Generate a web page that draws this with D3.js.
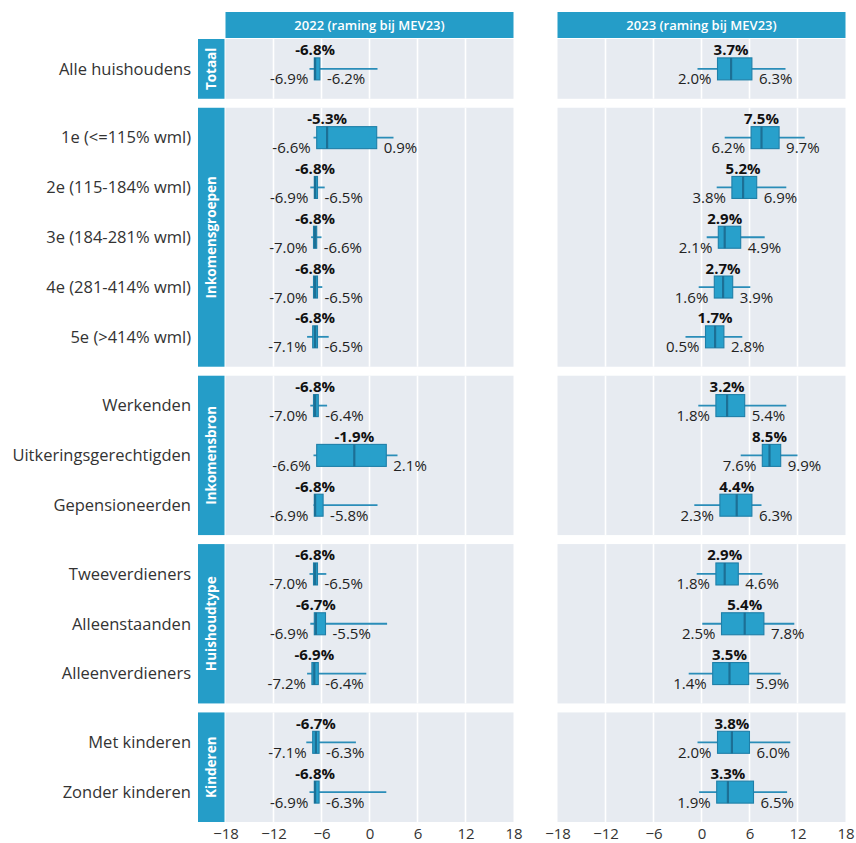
<!DOCTYPE html>
<html>
<head>
<meta charset="utf-8">
<script src="https://cdn.jsdelivr.net/npm/d3@7"></script>
<style>
  html, body { margin: 0; padding: 0; background: #ffffff; }
  svg { display: block; font-family: "Open Sans", "Noto Sans", sans-serif; }
</style>
</head>
<body>
<svg id="chart" width="856" height="843"></svg>
<script>
// ---------------- DATA ----------------
const years = ["2022 (raming bij MEV23)", "2023 (raming bij MEV23)"];
const groups = ["Totaal", "Inkomensgroepen", "Inkomensbron", "Huishoudtype", "Kinderen"];
const categories = [
  "Alle huishoudens",
  "1e (<=115% wml)", "2e (115-184% wml)", "3e (184-281% wml)", "4e (281-414% wml)", "5e (>414% wml)",
  "Werkenden", "Uitkeringsgerechtigden", "Gepensioneerden",
  "Tweeverdieners", "Alleenstaanden", "Alleenverdieners",
  "Met kinderen", "Zonder kinderen"
];
const categoryGroup = [
  "Totaal",
  "Inkomensgroepen", "Inkomensgroepen", "Inkomensgroepen", "Inkomensgroepen", "Inkomensgroepen",
  "Inkomensbron", "Inkomensbron", "Inkomensbron",
  "Huishoudtype", "Huishoudtype", "Huishoudtype",
  "Kinderen", "Kinderen"
];
// 2022
const low2022  = [-7.5, -7.0, -7.4, -7.3, -7.4, -7.8, -7.4, -7.0, -7.0, -7.5, -7.4, -7.8, -7.9, -7.5];
const q1_2022  = [-6.9, -6.6, -6.9, -7.0, -7.0, -7.1, -7.0, -6.6, -6.9, -7.0, -6.9, -7.2, -7.1, -6.9];
const med2022  = [-6.8, -5.3, -6.8, -6.8, -6.8, -6.8, -6.8, -1.9, -6.8, -6.8, -6.7, -6.9, -6.7, -6.8];
const q3_2022  = [-6.2,  0.9, -6.5, -6.6, -6.5, -6.5, -6.4,  2.1, -5.8, -6.5, -5.5, -6.4, -6.3, -6.3];
const high2022 = [ 1.0,  3.0, -5.6, -6.0, -5.9, -5.1, -5.3,  3.5,  1.0, -5.4,  2.2, -0.4, -1.7,  2.1];
// 2023
const low2023  = [-0.5,  2.9,  1.9,  0.65, -0.35, -2.0, -0.4, 4.9, -0.9, -0.6,  0.1, -1.6, -0.5, -0.3];
const q1_2023  = [ 2.0,  6.2,  3.8,  2.1,  1.6,  0.5,  1.8,  7.6,  2.3,  1.8,  2.5,  1.4,  2.0,  1.9];
const med2023  = [ 3.7,  7.5,  5.2,  2.9,  2.7,  1.7,  3.2,  8.5,  4.4,  2.9,  5.4,  3.5,  3.8,  3.3];
const q3_2023  = [ 6.3,  9.7,  6.9,  4.9,  3.9,  2.8,  5.4,  9.9,  6.3,  4.6,  7.8,  5.9,  6.0,  6.5];
const high2023 = [10.5, 12.9, 10.6,  7.9,  6.1,  5.1, 10.6, 12.0,  7.5,  7.6, 11.6,  9.9, 11.1, 10.7];
const xTicks = [-18, -12, -6, 0, 6, 12, 18];

const series = [
  {year: years[0], low: low2022, q1: q1_2022, med: med2022, q3: q3_2022, high: high2022},
  {year: years[1], low: low2023, q1: q1_2023, med: med2023, q3: q3_2023, high: high2023}
];

// ---------------- LAYOUT ----------------
const svg = d3.select("#chart");
const C = {
  strip: "#259dc8",
  fill: "#28a0cb",
  stroke: "#1f7fa8",
  median: "#1c6f95",
  whisker: "#2a8db8",
  panel: "#e7ebf1",
  grid: "#ffffff",
  text: "#333333"
};
const panelX = [225.5, 557.5];
const panelW = 288;
const topY = 39;
const gap = 9;
const unit = 49.8;

const xScales = panelX.map(x0 => d3.scaleLinear().domain([-18, 18]).range([x0, x0 + panelW]));

const facets = [];
let yCursor = topY;
groups.forEach(g => {
  const cats = categories.filter((c, i) => categoryGroup[i] === g);
  const h = (cats.length - 1 + 1.2) * unit;
  const y = d3.scalePoint().domain(cats).range([yCursor, yCursor + h]).padding(0.6);
  facets.push({group: g, cats, y0: yCursor, h, y});
  yCursor += h + gap;
});

years.forEach((yr, k) => {
  svg.append("rect").attr("x", panelX[k]).attr("y", 12).attr("width", panelW).attr("height", 26)
    .attr("fill", C.strip);
  svg.append("text").attr("x", panelX[k] + panelW / 2).attr("y", 25).attr("dy", "0.35em")
    .attr("text-anchor", "middle").attr("fill", "#ffffff").attr("font-size", 13).attr("font-weight", 600)
    .text(yr);
});

facets.forEach(f => {
  svg.append("rect").attr("x", 198).attr("y", f.y0).attr("width", 26.5).attr("height", f.h)
    .attr("fill", C.strip);
  svg.append("text")
    .attr("transform", `translate(${211.5},${f.y0 + f.h / 2}) rotate(-90)`)
    .attr("text-anchor", "middle").attr("dy", "0.35em")
    .attr("fill", "#ffffff").attr("font-size", 13.5).attr("font-weight", 700)
    .text(f.group);

  f.cats.forEach(c => {
    svg.append("text").attr("x", 191).attr("y", f.y(c)).attr("dy", "0.35em")
      .attr("text-anchor", "end").attr("fill", C.text).attr("font-size", 16.5).text(c);
  });

  series.forEach((s, k) => {
    const x = xScales[k];
    const g = svg.append("g");
    g.append("rect").attr("x", panelX[k]).attr("y", f.y0).attr("width", panelW).attr("height", f.h)
      .attr("fill", C.panel);
    g.selectAll("line.grid").data(xTicks.slice(1, -1)).join("line")
      .attr("x1", d => x(d)).attr("x2", d => x(d))
      .attr("y1", f.y0).attr("y2", f.y0 + f.h)
      .attr("stroke", C.grid).attr("stroke-width", 1.6);

    const rows = f.cats.map(c => {
      const i = categories.indexOf(c);
      return {c, low: s.low[i], q1: s.q1[i], med: s.med[i], q3: s.q3[i], high: s.high[i]};
    });
    const bh = 22;
    const fmt = v => v.toFixed(1) + "%";
    rows.forEach(r => {
      const cy = f.y(r.c);
      g.append("line").attr("x1", x(r.low)).attr("x2", x(r.high)).attr("y1", cy).attr("y2", cy)
        .attr("stroke", C.whisker).attr("stroke-width", 1.8);
      g.append("rect").attr("x", x(r.q1)).attr("y", cy - bh / 2)
        .attr("width", Math.max(0.5, x(r.q3) - x(r.q1))).attr("height", bh)
        .attr("fill", C.fill).attr("stroke", C.stroke).attr("stroke-width", 1.1);
      g.append("line").attr("x1", x(r.med)).attr("x2", x(r.med)).attr("y1", cy - bh / 2).attr("y2", cy + bh / 2)
        .attr("stroke", C.median).attr("stroke-width", 2.2);
      g.append("text").attr("x", x(r.med)).attr("y", cy - 13.5)
        .attr("text-anchor", "middle").attr("font-size", 15).attr("font-weight", 700).attr("fill", "#111")
        .text(fmt(r.med));
      g.append("text").attr("x", x(r.q1) - 6).attr("y", cy + 15.5)
        .attr("text-anchor", "end").attr("font-size", 15).attr("fill", "#222")
        .text(fmt(r.q1));
      g.append("text").attr("x", x(r.q3) + 7).attr("y", cy + 15.5)
        .attr("text-anchor", "start").attr("font-size", 15).attr("fill", "#222")
        .text(fmt(r.q3));
    });
  });
});

const lastF = facets[facets.length - 1];
const axisY = lastF.y0 + lastF.h;
xScales.forEach(x => {
  const ax = svg.append("g").attr("transform", `translate(0,${axisY})`)
    .call(d3.axisBottom(x).tickValues(xTicks).tickSize(0).tickPadding(6).tickFormat(d3.format("d")));
  ax.select(".domain").remove();
  ax.selectAll("text").attr("font-size", 15).attr("fill", C.text)
    .attr("font-family", "\"Open Sans\", sans-serif");
});
</script>
</body>
</html>
